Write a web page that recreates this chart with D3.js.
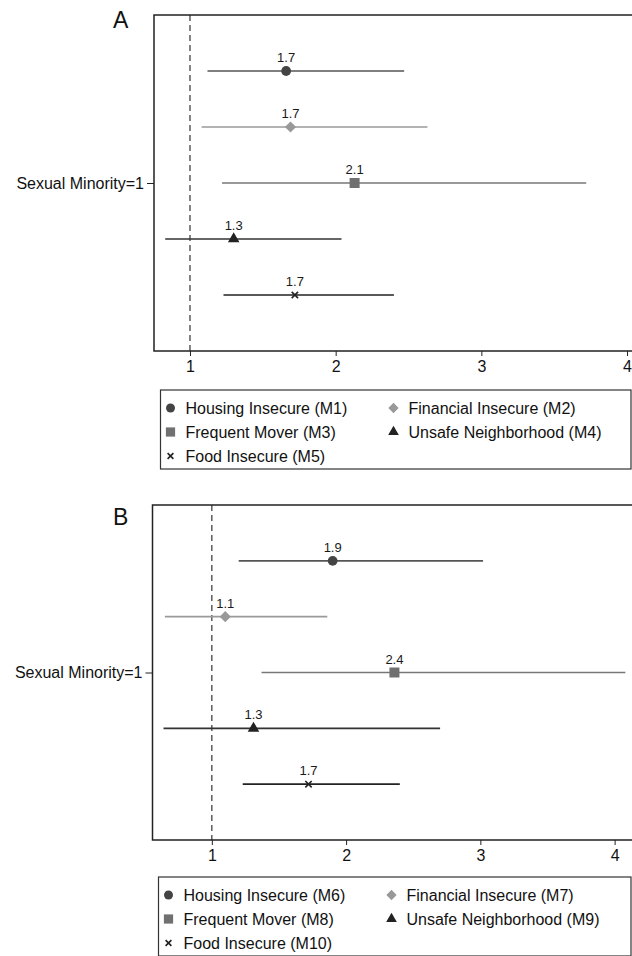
<!DOCTYPE html>
<html>
<head>
<meta charset="utf-8">
<script src="https://cdn.jsdelivr.net/npm/d3@7"></script>
<style>
  body { margin: 0; background: #fff; }
  svg { display: block; font-family: "Liberation Sans", Helvetica, Arial, sans-serif; }
</style>
</head>
<body>
<div class="chart"></div>
<script>
// odds ratios with 95% CI
let modelsA = ["M1", "M2", "M3", "M4", "M5"];
let modelsB = ["M6", "M7", "M8", "M9", "M10"];
let outcomes = ["Housing Insecure", "Financial Insecure", "Frequent Mover", "Unsafe Neighborhood", "Food Insecure"];
let estA = [1.66, 1.69, 2.13, 1.30, 1.72];
let lowA = [1.12, 1.08, 1.22, 0.83, 1.23];
let highA = [2.47, 2.63, 3.72, 2.04, 2.40];
let estB = [1.90, 1.10, 2.36, 1.31, 1.72];
let lowB = [1.20, 0.65, 1.37, 0.64, 1.23];
let highB = [3.02, 1.86, 4.08, 2.70, 2.40];
let labelsA = ["1.7", "1.7", "2.1", "1.3", "1.7"];
let labelsB = ["1.9", "1.1", "2.4", "1.3", "1.7"];
let xTicks = [1, 2, 3, 4];
let rowLabel = "Sexual Minority=1";

let lineColor = ["#555", "#9a9a9a", "#777", "#333", "#222"];
let markColor = ["#444", "#999", "#707070", "#222", "#222"];
let shapes = [d3.symbolCircle, d3.symbolSquare, d3.symbolSquare, d3.symbolTriangle, d3.symbolTimes];
let sizes = [75, 62, 100, 58, 28];
let rotate = [0, 45, 0, 0, 0];

let svg = d3.select(".chart").append("svg")
    .attr("width", 632)
    .attr("height", 956);

function marker(g, i, x, y, scale) {
    let stroke = shapes[i] === d3.symbolTimes;
    g.append("path")
        .attr("d", d3.symbol().type(shapes[i]).size(sizes[i] * scale)())
        .attr("transform", `translate(${x},${y}) rotate(${rotate[i]})`)
        .attr("fill", stroke ? "none" : markColor[i])
        .attr("stroke", stroke ? markColor[i] : "none")
        .attr("stroke-width", stroke ? 1.6 : 0);
}

function panel(opt) {
    let g = svg.append("g");

    let x = d3.scaleLinear().domain(opt.xDomain).range([opt.left, 640]);
    let y = d3.scalePoint().domain(opt.models).range([opt.top, opt.bottom]).padding(1);
    let yLab = d3.scalePoint().domain([rowLabel]).range([opt.top, opt.bottom]).padding(0.5);

    // panel letter
    g.append("text")
        .attr("x", 113).attr("y", opt.letterY)
        .attr("font-size", 23)
        .attr("fill", "#111")
        .text(opt.letter);

    // reference line at OR = 1
    g.append("line")
        .attr("x1", x(1)).attr("x2", x(1))
        .attr("y1", opt.top).attr("y2", opt.bottom)
        .attr("stroke", "#333")
        .attr("stroke-width", 1.2)
        .attr("stroke-dasharray", "6,4");

    // CI lines
    g.selectAll(".ci")
        .data(opt.models)
        .enter().append("line")
        .attr("class", "ci")
        .attr("x1", (d, i) => x(opt.low[i]))
        .attr("x2", (d, i) => x(opt.high[i]))
        .attr("y1", d => y(d))
        .attr("y2", d => y(d))
        .attr("stroke", (d, i) => lineColor[i])
        .attr("stroke-width", 1.6);

    opt.models.forEach((m, i) => {
        marker(g, i, x(opt.est[i]), y(m), 1);
        g.append("text")
            .attr("x", x(opt.est[i]))
            .attr("y", y(m) - 9)
            .attr("text-anchor", "middle")
            .attr("font-size", 13)
            .attr("fill", "#1a1a1a")
            .text(opt.labels[i]);
    });

    // frame: left, top, bottom (right side runs off the page)
    g.append("path")
        .attr("d", `M640,${opt.top}H${opt.left}V${opt.bottom}H640`)
        .attr("fill", "none")
        .attr("stroke", "#222")
        .attr("stroke-width", 1.5);

    let xAxis = g.append("g")
        .attr("transform", `translate(0,${opt.bottom})`)
        .call(d3.axisBottom(x).tickValues(xTicks).tickSize(5).tickPadding(5).tickFormat(d3.format("d")));
    xAxis.select(".domain").remove();
    xAxis.selectAll("line").attr("stroke", "#222");
    xAxis.selectAll("text").attr("font-size", 16).attr("fill", "#111").attr("font-family", null);

    let yAxis = g.append("g")
        .attr("transform", `translate(${opt.left},0)`)
        .call(d3.axisLeft(yLab).tickSize(7).tickPadding(3));
    yAxis.select(".domain").remove();
    yAxis.selectAll("line").attr("stroke", "#222");
    yAxis.selectAll("text").attr("font-size", 16).attr("fill", "#111").attr("font-family", null);

    // legend
    let lg = g.append("g");
    lg.append("rect")
        .attr("x", opt.legLeft).attr("y", opt.legTop)
        .attr("width", 631 - opt.legLeft).attr("height", 79)
        .attr("fill", "none")
        .attr("stroke", "#333")
        .attr("stroke-width", 1.2);

    outcomes.forEach((name, i) => {
        let col = i % 2, row = Math.floor(i / 2);
        let mx = col === 0 ? opt.legLeft + 10 : opt.legLeft + 233;
        let my = opt.legTop + 18 + row * 24;
        marker(lg, i, mx, my, 0.85);
        lg.append("text")
            .attr("x", mx + 15)
            .attr("y", my + 6)
            .attr("font-size", 16)
            .attr("fill", "#111")
            .text(`${name} (${opt.models[i]})`);
    });
}

panel({
    letter: "A", letterY: 28,
    models: modelsA, est: estA, low: lowA, high: highA, labels: labelsA,
    xDomain: [0.753, 4.089], left: 154, top: 15, bottom: 351,
    legLeft: 160.5, legTop: 390
});

panel({
    letter: "B", letterY: 525,
    models: modelsB, est: estB, low: lowB, high: highB, labels: labelsB,
    xDomain: [0.558, 4.189], left: 152.5, top: 505, bottom: 840,
    legLeft: 158.5, legTop: 877
});
</script>
</body>
</html>
